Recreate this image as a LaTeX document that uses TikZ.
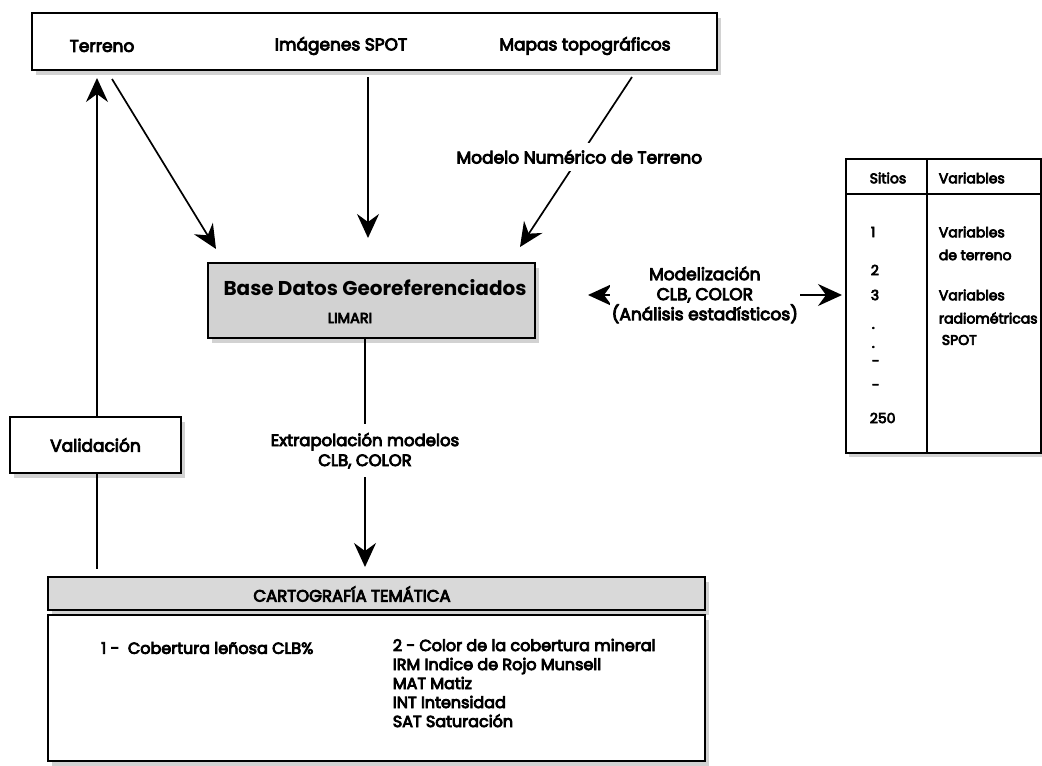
\documentclass[tikz,border=0pt]{standalone}
\usepackage{fontspec}
\setmainfont{Poppins}[FakeBold=5]
\newfontfamily\gruesa{Poppins}
\usetikzlibrary{arrows.meta,positioning,shadows}

\begin{document}
\begin{tikzpicture}[x=1pt,y=-1pt,line width=1.7pt,
  >={Stealth[length=24pt,width=22pt,inset=8pt]},
  every node/.style={font=\fontsize{16}{19}\selectfont},
  caja/.style={draw,line width=2pt,fill=white,inner sep=0pt,
    drop shadow={shadow xshift=4pt,shadow yshift=-5pt,fill=gray!35,opacity=1}},
  cajagris/.style={caja,fill=gray!35},
  etiq/.style={fill=white,align=center,inner sep=7pt,font=\fontsize{17}{20}\selectfont},
  celda/.style={anchor=west,inner sep=0pt,font=\fontsize{14}{17}\selectfont}]
  \useasboundingbox (0,0) rectangle (1042,766);

  \node[caja,minimum width=685pt,minimum height=57pt] (fuentes) at (374.5,41.5) {};
  \node[font=\fontsize{17}{20}\selectfont] (terreno) at (102,46) {Terreno};
  \node[font=\fontsize{17}{20}\selectfont] (imagenes) at (341,46) {Imágenes SPOT};
  \node[font=\fontsize{17}{20}\selectfont] (mapas) at (585,46) {Mapas topográficos};

  \node[cajagris,minimum width=327pt,minimum height=75pt] (base) at (371.5,300.5) {};
  \node[font=\fontsize{20}{24}\gruesa\bfseries] (basetit) at (375,288) {Base Datos Georeferenciados};
  \node[font=\fontsize{14.5}{17}\selectfont] (limari) at (350,318) {LIMARI};

  \node[caja,minimum width=171pt,minimum height=56pt,font=\fontsize{17}{20}\selectfont] (valid) at (95.5,445) {Validación};

  \node[draw,line width=2pt,minimum width=195pt,minimum height=294pt,inner sep=0pt,
    drop shadow={shadow xshift=3pt,shadow yshift=-4pt,fill=gray!35,opacity=1},fill=white] (tabla) at (943.5,306) {};
  \draw (tabla.west |- 0,194) -- (tabla.east |- 0,194);
  \draw (tabla.north -| 927,0) -- (tabla.south -| 927,0);
  \node[celda,anchor=center] (sitios) at (888,178) {Sitios};
  \node[celda] (vars) at (938,178) {Variables};
  \node[celda] (s1) at (870,232) {1};
  \node[celda] (s2) at (870,270) {2};
  \node[celda] (s3) at (870,295) {3};
  \node[celda] (p1) at (871,328) {.};
  \node[celda] (p2) at (871,347) {.};
  \node[celda] (p3) at (871,363) {-};
  \node[celda] (p4) at (871,387) {-};
  \node[celda] (s250) at (869,418) {250};
  \node[celda] (vt1) at (938,232) {Variables};
  \node[celda] (vt2) at (938,255) {de terreno};
  \node[celda] (vr1) at (938,295) {Variables};
  \node[celda] (vr2) at (938,318) {radiométricas};
  \node[celda] (vr3) at (941,340) {SPOT};

  \node[cajagris,fill=gray!30,minimum width=657pt,minimum height=33pt] (cartohead) at (376.5,593.5) {};
  \node[font=\fontsize{16.5}{19}\selectfont] (cartotit) at (352,594) {CARTOGRAFÍA TEMÁTICA};
  \node[caja,minimum width=657pt,minimum height=146pt] (cartobody) at (376.5,688) {};
  \node[anchor=west] (clb) at (97,648) {1 -\ \ Cobertura leñosa CLB\%};
  \node[anchor=north west,align=left,inner sep=0pt] (color) at (392,638)
    {2 - Color de la cobertura mineral\\IRM Indice de Rojo Munsell\\MAT Matiz\\INT Intensidad\\SAT Saturación};

  \coordinate (t-sal) at (112,79);
  \coordinate (t-lleg) at (216,249);
  \coordinate (i-lleg) at (368,238);
  \coordinate (m-sal) at (632,77);
  \coordinate (m-lleg) at (520,247);
  \coordinate (e-lleg) at (365,567);
  \coordinate (mo-izq) at (588,295);
  \coordinate (mo-der) at (842,295);
  \coordinate (v-lleg) at (97,78);

  \draw[->] (t-sal) -- (t-lleg);
  \draw[->] (i-lleg |- 0,77) -- (i-lleg);
  \draw[->] (m-sal) -- node[etiq,pos=0.47] (mnt) {Modelo Numérico de Terreno} (m-lleg);
  \draw[<->] (mo-izq) -- node[etiq,pos=0.46,inner sep=2pt] (modeliz) {Modelización\\CLB, COLOR\\(Análisis estadísticos)} (mo-der);
  \draw[->] (base.south -| e-lleg) -- node[etiq,pos=0.49,inner sep=9pt,font=\fontsize{16.5}{20}\selectfont] (extrap) {Extrapolación modelos\\CLB, COLOR} (e-lleg);
  \draw[->] (valid.north -| v-lleg) -- (v-lleg);
  \draw[shorten >=7pt] (valid.south -| v-lleg) -- (cartohead.north -| v-lleg);
\end{tikzpicture}
\end{document}
